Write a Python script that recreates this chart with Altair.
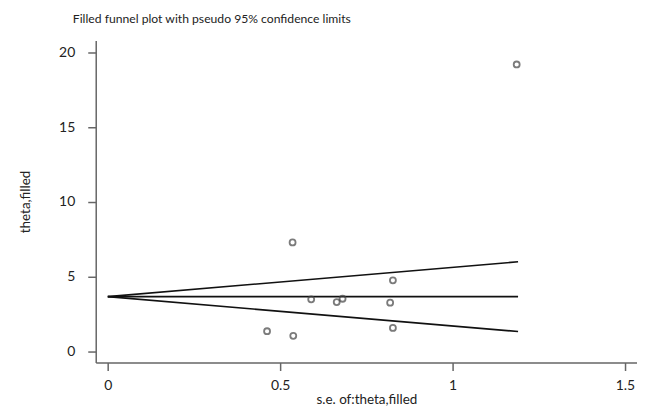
import altair as alt
import pandas as pd

# Studies (observed + filled)
se_vals = [0.536, 0.827, 0.590, 0.664, 0.681, 0.819, 0.462, 0.538, 0.827, 1.186]
theta_vals = [7.29, 4.76, 3.49, 3.31, 3.53, 3.27, 1.36, 1.05, 1.58, 19.18]

# Funnel (pseudo 95% limits) endpoints
funnel_se = [0.0, 1.19]
funnel_center = [3.67, 3.67]
funnel_upper = [3.67, 6.0]
funnel_lower = [3.67, 1.34]

x_ticks = [0, 0.5, 1, 1.5]
y_ticks = [0, 5, 10, 15, 20]

FONT = "Lato"

pts = pd.DataFrame({"se": se_vals, "theta": theta_vals})
rows = []
for name, ys in [("center", funnel_center), ("upper", funnel_upper), ("lower", funnel_lower)]:
    for s, t in zip(funnel_se, ys):
        rows.append({"line": name, "se": s, "theta": t})
fun = pd.DataFrame(rows)

xscale = alt.Scale(domain=[-0.035, 1.535], nice=False, zero=False)
yscale = alt.Scale(domain=[-0.73, 20.78], nice=False, zero=False)

xaxis = alt.Axis(values=x_ticks, labelExpr="datum.value", title="s.e. of:theta,filled",
                 grid=False, domainColor="#666666", domainWidth=1.5, tickColor="#666666",
                 tickWidth=1.5, tickSize=8, labelPadding=8, titlePadding=0,
                 labelFontSize=14, titleFontSize=13.5, labelFont=FONT, titleFont=FONT,
                 labelColor="#222222", titleColor="#222222", titleFontWeight="normal")
yaxis = alt.Axis(values=y_ticks, title="theta,filled", grid=False, domainColor="#666666",
                 domainWidth=1.5, tickColor="#666666", tickWidth=1.5, tickSize=8,
                 labelPadding=13, titlePadding=26, labelFontSize=14, titleFontSize=13.5,
                 labelFont=FONT, titleFont=FONT, labelColor="#222222", titleColor="#222222",
                 titleFontWeight="normal")

lines = alt.Chart(fun).mark_line(color="#111111", strokeWidth=1.6).encode(
    x=alt.X("se:Q", scale=xscale, axis=xaxis),
    y=alt.Y("theta:Q", scale=yscale, axis=yaxis),
    detail="line:N",
)

points = alt.Chart(pts).mark_point(shape="circle", filled=False, color="#444444",
                                   size=36, strokeWidth=1.8).encode(
    x=alt.X("se:Q", scale=xscale),
    y=alt.Y("theta:Q", scale=yscale),
)

chart = alt.layer(lines, points).properties(
    width=543, height=323,
    autosize="none",
    padding={"left": 88, "top": 32, "right": 0, "bottom": 45},
    title=alt.TitleParams("Filled funnel plot with pseudo 95% confidence limits",
                          anchor="start", frame="group", dx=-23, offset=15, fontSize=12.2,
                          font=FONT, fontWeight="normal", color="#222222"),
).configure_view(stroke=None)

chart.save("out.html", embed_options={"renderer": "svg", "actions": False})
